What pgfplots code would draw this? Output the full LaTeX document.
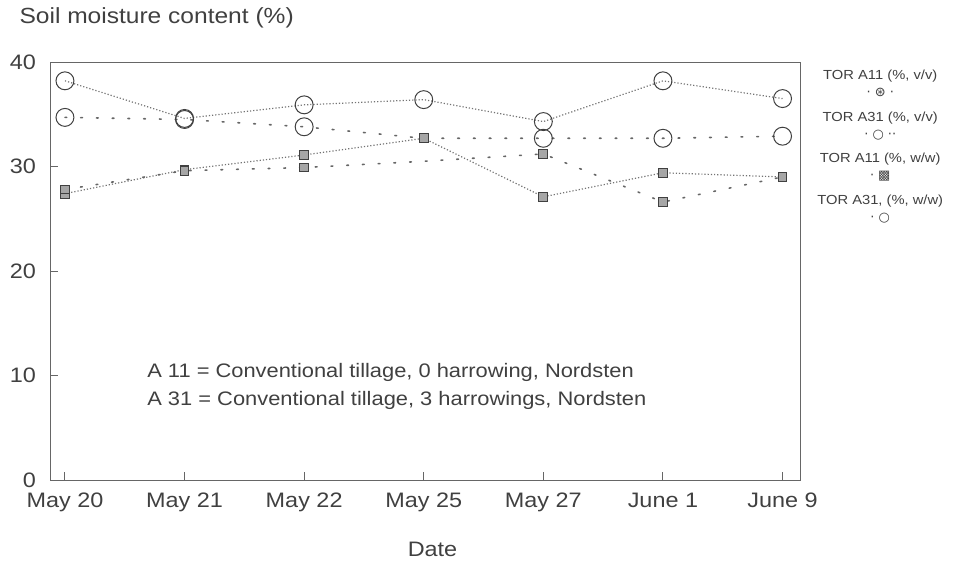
\documentclass[border=0pt]{standalone}
\usepackage{fontspec}
\setmainfont[FakeStretch=1.12]{Liberation Sans}
\newfontfamily\dejavu{DejaVu Sans}
\usepackage{pgfplots}
\pgfplotsset{compat=1.18}
\begin{document}
\begin{tikzpicture}
\useasboundingbox (-25bp,-44bp) rectangle (455bp,240bp);
\begin{axis}[
  scale only axis, width=375bp, height=209bp,
  at={(0,0)}, anchor=south west,
  xmin=-0.125, xmax=6.146, ymin=0, ymax=40,
  xtick={0,1,2,3,4,5,6},
  xticklabels={May 20,May 21,May 22,May 25,May 27,June 1,June 9},
  ytick={0,10,20,30,40},
  tick label style={font=\fontsize{10.5}{12}\selectfont, text=black!75},
  /pgf/number format/assume math mode=true,
  axis line style={black!60, line width=0.5pt},
  tick style={black!60, line width=0.5pt},
  major tick length=4bp,
  xtick pos=bottom, ytick pos=left, tick align=inside,
  xticklabel style={yshift=-3bp},
  yticklabel style={xshift=-3.5bp},
  clip=false,
  legend style={at={(rel axis cs:1.107,1.0)}, anchor=north, draw=none, fill=none,
    font=\fontsize{6.6}{8.5}\selectfont, text=black!75, cells={align=center}, row sep=2pt},
  legend image code/.code={},
  extra description/.code={
    \node[anchor=west, font=\fontsize{11}{12}\selectfont, text=black!75] at (-0.05,1.105) {Soil moisture content (\%)};
    \node[anchor=center, font=\fontsize{10.5}{12}\selectfont, text=black!75] at (0.51,-0.165) {Date};
  },
]
\addplot[black!55, densely dotted, line width=0.6pt, mark=o, mark size=4.5pt,
  mark options={solid, black!75, line width=0.5pt}]
  coordinates {(0,38.2) (1,34.6) (2,35.9) (3,36.4) (4,34.3) (5,38.2) (6,36.5)};
\addlegendentry{TOR A11 (\%, v/v)\\{\dejavu\fontsize{6.5}{7}\selectfont · ⊛ ·}}
\addplot[black!60, dash pattern=on 0.9pt off 7pt, line cap=round, line width=0.8pt, mark=o, mark size=4.5pt,
  mark options={solid, black!75, line width=0.5pt}, mark indices={1,2,3,5,6,7}]
  coordinates {(0,34.7) (1,34.5) (2,33.8) (3,32.7) (4,32.7) (5,32.7) (6,32.9)};
\addlegendentry{TOR A31 (\%, v/v)\\{\dejavu\fontsize{6.5}{7}\selectfont · ○ ··}}
\addplot[black!55, densely dotted, line width=0.6pt, mark=square*, mark size=2.2pt,
  mark options={solid, black!75, fill=black!35, line width=0.5pt}]
  coordinates {(0,27.4) (1,29.7) (2,31.1) (3,32.7) (4,27.1) (5,29.4) (6,29.0)};
\addlegendentry{TOR A11 (\%, w/w)\\{\dejavu\fontsize{6.5}{7}\selectfont · ▩}}
\addplot[black!60, dash pattern=on 0.9pt off 7pt, line cap=round, line width=0.8pt, mark=square*, mark size=2.2pt,
  mark options={solid, black!75, fill=black!35, line width=0.5pt}, mark indices={1,2,3,5,6,7}]
  coordinates {(0,27.8) (1,29.6) (2,29.9) (3,30.5) (4,31.2) (5,26.6) (6,29.0)};
\addlegendentry{TOR A31, (\%, w/w)\\{\dejavu\fontsize{6.5}{7}\selectfont · ○}}
\node[anchor=west, font=\fontsize{9.8}{12}\selectfont, text=black!75] at (axis cs:0.63,10.3) {A 11 = Conventional tillage, 0 harrowing, Nordsten};
\node[anchor=west, font=\fontsize{9.8}{12}\selectfont, text=black!75] at (axis cs:0.63,7.6) {A 31 = Conventional tillage, 3 harrowings, Nordsten};
\end{axis}
\end{tikzpicture}
\end{document}
